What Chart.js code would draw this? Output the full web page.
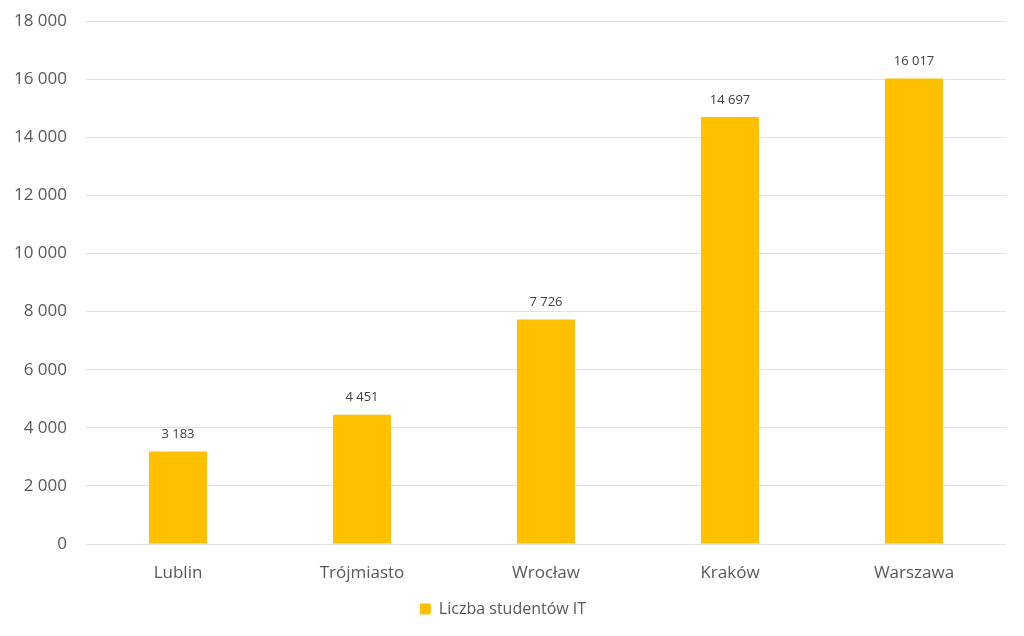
<!DOCTYPE html>
<html>
<head>
<meta charset="utf-8">
<script src="https://cdn.jsdelivr.net/npm/chart.js@4/dist/chart.umd.min.js"></script>
<style>
    html, body { margin: 0; padding: 0; background: #fff; }
    #wrap { width: 1024px; height: 636px; }
</style>
</head>
<body>
<div id="wrap"><canvas id="chart" width="1024" height="636"></canvas></div>
<script>
const cities = ['Lublin', 'Trójmiasto', 'Wrocław', 'Kraków', 'Warszawa'];
const students = [3183, 4451, 7726, 14697, 16017];
const seriesLabel = 'Liczba studentów IT';

const fontFamily = '"Open Sans", "Noto Sans", sans-serif';

function formatNum(v) {
    return String(v).replace(/\B(?=(\d{3})+(?!\d))/g, ' ');
}

// etykiety nad słupkami
const valueLabels = {
    id: 'valueLabels',
    afterDatasetsDraw(chart) {
        const ctx = chart.ctx;
        const meta = chart.getDatasetMeta(0);
        ctx.save();
        ctx.font = '13px ' + fontFamily;
        ctx.fillStyle = '#404040';
        ctx.textAlign = 'center';
        ctx.textBaseline = 'middle';
        meta.data.forEach((bar, i) => {
            ctx.fillText(formatNum(students[i]), bar.x, bar.y - 17);
        });
        ctx.restore();
    }
};

new Chart(document.getElementById('chart').getContext('2d'), {
    type: 'bar',
    data: {
        labels: cities,
        datasets: [{
            label: seriesLabel,
            data: students,
            backgroundColor: '#FFC000',
            borderWidth: 0,
            categoryPercentage: 1,
            barPercentage: 0.315
        }]
    },
    options: {
        responsive: false,
        animation: false,
        layout: { padding: { top: 21, right: 18, left: 0, bottom: 9 } },
        plugins: {
            tooltip: { enabled: false },
            legend: {
                position: 'bottom',
                labels: {
                    boxWidth: 11,
                    boxHeight: 11,
                    color: '#595959',
                    font: { family: fontFamily, size: 16 },
                    padding: 10
                }
            }
        },
        scales: {
            x: {
                grid: { display: false, drawTicks: false },
                border: { display: false },
                ticks: {
                    color: '#595959',
                    font: { family: fontFamily, size: 17 },
                    padding: 19
                },
                afterFit(scale) { scale.height = 47; }
            },
            y: {
                min: 0,
                max: 18000,
                grid: { color: '#e3e3e3', lineWidth: 1, drawTicks: false },
                border: { display: false },
                ticks: {
                    stepSize: 2000,
                    color: '#595959',
                    font: { family: fontFamily, size: 17 },
                    padding: 19,
                    callback: v => formatNum(v)
                },
                afterFit(scale) {
                    scale.width = 86;
                    scale.paddingTop = 0;
                    scale.paddingBottom = 0;
                }
            }
        }
    },
    plugins: [valueLabels]
});
</script>
</body>
</html>
